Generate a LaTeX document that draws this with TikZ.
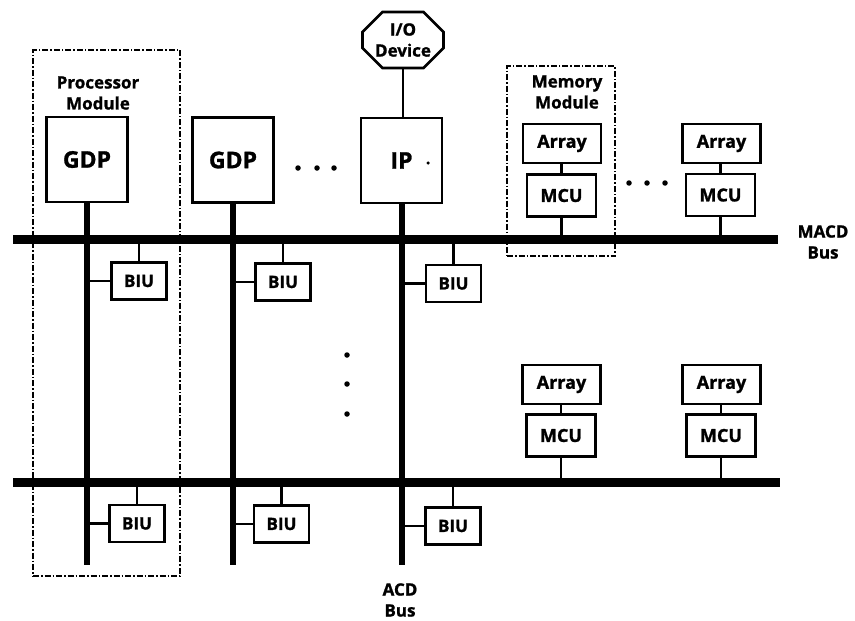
\documentclass[tikz,border=0pt]{standalone}
\usepackage{fontspec}
\setmainfont{Open Sans}[BoldFeatures={FakeBold=1.2}]
\usetikzlibrary{shapes.misc}
\begin{document}
\begin{tikzpicture}[x=1pt,y=-1pt,
  box/.style={draw, line width=2.8pt, inner sep=0pt, font=\bfseries\fontsize{17pt}{20pt}\selectfont},
  bigbox/.style={box, minimum width=81pt, minimum height=85pt, font=\bfseries\fontsize{23pt}{26pt}\selectfont},
  biu/.style={box, minimum width=55pt, minimum height=37pt},
  arr/.style={box, minimum width=78pt, minimum height=39pt, font=\bfseries\fontsize{18pt}{22pt}\selectfont},
  mcu/.style={box, minimum width=69pt, minimum height=42pt, font=\bfseries\fontsize{18pt}{22pt}\selectfont},
  module/.style={draw, line width=2.2pt, dash pattern=on 6pt off 2pt on 1.5pt off 2pt, inner sep=0pt},
  lbl/.style={align=center, font=\bfseries\fontsize{17pt}{21pt}\selectfont, inner sep=0pt},
  bus/.style={line width=9pt},
  acd/.style={line width=6pt},
  link/.style={line width=2.5pt},
  dot/.style={circle, fill, inner sep=0pt, minimum size=5.5pt}]
\useasboundingbox (0,0) rectangle (855,621);

% modules (dashed)
\node[module, minimum width=147pt, minimum height=526pt] (pm) at (106.5,313) {};
\node[module, minimum width=108pt, minimum height=190pt] (mm) at (561,161) {};
\node[lbl] (pmlbl) at (98,93) {Processor\\Module};
\node[lbl] (mmlbl) at (567,92) {Memory\\Module};

% processors
\node[bigbox] (gdp1) at (87,159.5) {GDP};
\node[bigbox] (gdp2) at (233,160) {GDP};
\node[bigbox] (ip) at (401.5,160.5) {IP};
\node[dot, minimum size=3.5pt] (ipdot) at (428,163) {};
\node[box, chamfered rectangle, chamfered rectangle xsep=10pt, chamfered rectangle ysep=10pt,
      minimum width=81pt, minimum height=56pt, align=center,
      font=\bfseries\fontsize{17pt}{21pt}\selectfont] (io) at (403,40) {I/O\\Device};

% bus coordinates
\coordinate (macdL) at (13,239);
\coordinate (macdR) at (778,239);
\coordinate (acdL) at (13,482);
\coordinate (acdR) at (780,482);
\coordinate (bot) at (0,565);

% ACD vertical buses
\draw[acd] (gdp1.south) -- (gdp1.south |- bot);
\draw[acd] (gdp2.south) -- (gdp2.south |- bot);
\draw[acd] (ip.south) -- (ip.south |- bot);
\draw[link] (io.south) -- (ip.north -| io.south);

% MACD buses
\draw[bus] (macdL) -- (macdR);
\draw[bus] (acdL) -- (acdR);

% BIUs upper
\node[biu] (b1) at (139,281) {BIU};
\node[biu] (b2) at (283,282) {BIU};
\node[biu] (b3) at (453.5,283.5) {BIU};
% BIUs lower
\node[biu] (b4) at (137,523.5) {BIU};
\node[biu] (b5) at (281.5,524) {BIU};
\node[biu] (b6) at (453,526) {BIU};

\foreach \b/\g in {b1/gdp1, b2/gdp2, b3/ip} {
  \draw[link] (\b.north) -- (\b.north |- macdL);
  \draw[link] (\b.west) -- (\b.west -| \g.south);
}
\foreach \b/\g in {b4/gdp1, b5/gdp2, b6/ip} {
  \draw[link] (\b.north) -- (\b.north |- acdL);
  \draw[link] (\b.west) -- (\b.west -| \g.south);
}

% memory upper
\node[arr] (a1) at (562,143.5) {Array};
\node[mcu] (m1) at (561.5,195.5) {MCU};
\node[arr] (a2) at (721.5,143.5) {Array};
\node[mcu] (m2) at (720.5,195) {MCU};
% memory lower
\node[arr] (a3) at (561.5,384.5) {Array};
\node[mcu] (m3) at (561,435.5) {MCU};
\node[arr] (a4) at (721.5,384.5) {Array};
\node[mcu] (m4) at (721,435.5) {MCU};

\foreach \a/\m in {a1/m1, a2/m2} {
  \draw[link] (\a.south -| \m.center) -- (\m.north);
  \draw[link] (\m.south) -- (\m.south |- macdL);
}
\foreach \a/\m in {a3/m3, a4/m4} {
  \draw[link] (\a.south -| \m.center) -- (\m.north);
  \draw[link] (\m.south) -- (\m.south |- acdL);
}

% dots
\node[dot] (d1) at (298,168) {};
\node[dot] (d2) at (317,168) {};
\node[dot] (d3) at (334,168) {};
\node[dot] (d4) at (629,183) {};
\node[dot] (d5) at (647,183) {};
\node[dot] (d6) at (665,183) {};
\node[dot] (d7) at (347,355) {};
\node[dot] (d8) at (347,384) {};
\node[dot] (d9) at (347,414) {};

% bus labels
\node[lbl] (macdlbl) at (823,242) {MACD\\Bus};
\node[lbl] (acdlbl) at (400,600) {ACD\\Bus};
\end{tikzpicture}
\end{document}
